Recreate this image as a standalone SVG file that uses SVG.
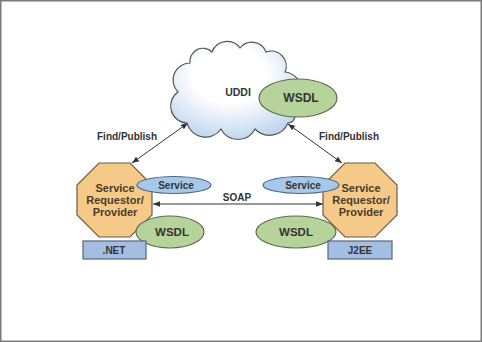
<svg xmlns="http://www.w3.org/2000/svg" width="482" height="342" viewBox="0 0 482 342">
<defs>
<style>
.oct{fill:#f5c988;stroke:#6e5c48;stroke-width:1.2}
.svc{fill:#a8c8ea;stroke:#4a6a8c;stroke-width:1.2}
.wsdl{fill:#b7d39c;stroke:#5b6b4b;stroke-width:1.2}
.plat{fill:#a3bde3;stroke:#56667f;stroke-width:1.2}
.t{font-family:"Liberation Sans",Arial,sans-serif;font-weight:bold;text-anchor:middle;fill:#333}
.ot{font-family:"Liberation Sans",Arial,sans-serif;font-weight:bold;text-anchor:middle;fill:#4a3c28;font-size:11px}
.ln{stroke:#333;stroke-width:1;fill:none}
</style>
<radialGradient id="cg" cx="0.45" cy="0.35" r="0.7">
<stop offset="0.4" stop-color="#ffffff"/>
<stop offset="1" stop-color="#b9d2ec"/>
</radialGradient>
<marker id="ah" viewBox="0 0 10 10" refX="10" refY="5" markerWidth="7" markerHeight="7" orient="auto-start-reverse" markerUnits="userSpaceOnUse">
<path d="M0,1 L10,5 L0,9 Z" fill="#333"/>
</marker>
</defs>
<rect x="0.75" y="0.75" width="480.5" height="340.5" fill="#fff" stroke="#7a7a7a" stroke-width="1.5"/>

<g id="connectors">
<line class="ln" x1="188" y1="123" x2="132" y2="163" marker-start="url(#ah)" marker-end="url(#ah)"/>
<line class="ln" x1="288" y1="124" x2="342" y2="163" marker-start="url(#ah)" marker-end="url(#ah)"/>
<line class="ln" x1="153" y1="204" x2="323" y2="204" marker-start="url(#ah)" marker-end="url(#ah)"/>
<text class="t" x="127" y="140" font-size="10">Find/Publish</text>
<text class="t" x="349" y="140" font-size="10">Find/Publish</text>
<text class="t" x="237" y="201" font-size="10">SOAP</text>
</g>

<g id="uddi">
<path d="M187,123 A17,17 0 0 1 178,92 A17,17 0 0 1 190,63 A13,13 0 0 1 212,52 A16,16 0 0 1 240,48 A15,15 0 0 1 266,52 A15,15 0 0 1 285,72 A19,19 0 0 1 291,108 A8,8 0 0 1 288,123 A20,20 0 0 1 255,129 A19,19 0 0 1 221,129 A19,19 0 0 1 187,123 Z" fill="url(#cg)" stroke="#555" stroke-width="1.2"/>
<text class="t" x="238" y="96" font-size="10.5">UDDI</text>
</g>
<g id="uddi-wsdl">
<ellipse class="wsdl" cx="298" cy="98" rx="39" ry="19"/>
<text class="t" x="301" y="102" font-size="12">WSDL</text>
</g>

<g id="left-node">
<polygon class="oct" points="99,163 130,163 152,185 152,215 130,237 99,237 77,215 77,185"/>
<text class="ot" x="115" y="192">Service</text>
<text class="ot" x="115" y="204">Requestor/</text>
<text class="ot" x="115" y="216">Provider</text>
</g>
<g id="left-service">
<ellipse class="svc" cx="174" cy="185" rx="37" ry="8.5"/>
<text class="t" x="176" y="189" font-size="10">Service</text>
</g>
<g id="left-wsdl">
<ellipse class="wsdl" cx="170" cy="232" rx="34" ry="16"/>
<text class="t" x="172" y="236" font-size="11.5">WSDL</text>
</g>
<g id="net">
<rect class="plat" x="83" y="241" width="63" height="18"/>
<text class="t" x="114" y="254" font-size="10">.NET</text>
</g>

<g id="right-node">
<polygon class="oct" points="345,163 375,163 397,185 397,215 375,237 345,237 323,215 323,185"/>
<text class="ot" x="361" y="192">Service</text>
<text class="ot" x="361" y="204">Requestor/</text>
<text class="ot" x="361" y="216">Provider</text>
</g>
<g id="right-service">
<ellipse class="svc" cx="301" cy="185" rx="38" ry="8.5"/>
<text class="t" x="303" y="189" font-size="10">Service</text>
</g>
<g id="right-wsdl">
<ellipse class="wsdl" cx="296" cy="232" rx="40" ry="16"/>
<text class="t" x="296" y="236" font-size="11.5">WSDL</text>
</g>
<g id="j2ee">
<rect class="plat" x="328" y="241" width="64" height="18"/>
<text class="t" x="360" y="254" font-size="10">J2EE</text>
</g>
</svg>
